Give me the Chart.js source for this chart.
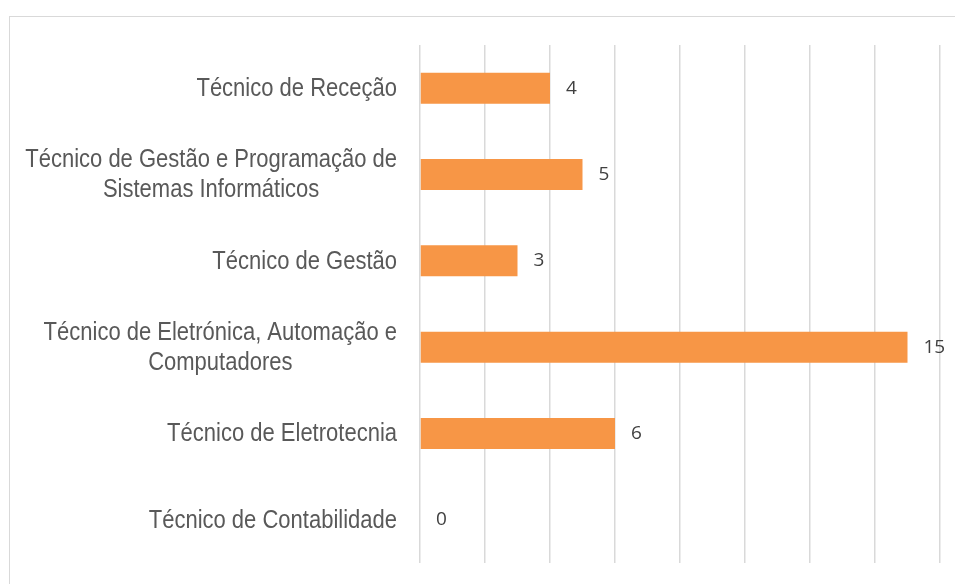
<!DOCTYPE html>
<html>
<head>
<meta charset="utf-8">
<script src="https://cdn.jsdelivr.net/npm/chart.js@4"></script>
<style>
    html, body { margin: 0; padding: 0; background: #fff; overflow: hidden; }
    .frame { position: absolute; left: 9px; top: 16px; width: 1200px; height: 1000px; border: 1px solid #d9d9d9; }
    .chart-box { position: absolute; left: 0; top: 0; width: 955px; height: 584px; }
</style>
</head>
<body>
<div class="frame"></div>
<div class="chart-box">
    <canvas id="myChart" width="955" height="584"></canvas>
</div>
<script>
const courses = [
    ["Técnico de Receção"],
    ["Técnico de Gestão e Programação de", "Sistemas Informáticos"],
    ["Técnico de Gestão"],
    ["Técnico de Eletrónica, Automação e", "Computadores"],
    ["Técnico de Eletrotecnia"],
    ["Técnico de Contabilidade"]
];
const students = [4, 5, 3, 15, 6, 0];
const xTicks = [0, 2, 4, 6, 8, 10, 12, 14, 16];

// category labels: block right-aligned, lines centred inside the block
// (the original font is a condensed sans, so squeeze it a bit)
const courseLabels = {
    id: "courseLabels",
    afterDraw(chart) {
        const ctx = chart.ctx;
        const yScale = chart.scales.y;
        const right = chart.chartArea.left - 23;
        const lineHeight = 30;
        const squeeze = 0.88;
        ctx.save();
        ctx.font = "25px 'Liberation Sans', Arial, sans-serif";
        ctx.fillStyle = "#595959";
        ctx.textBaseline = "middle";
        ctx.textAlign = "center";
        courses.forEach((lines, i) => {
            const widest = Math.max(...lines.map(l => ctx.measureText(l).width)) * squeeze;
            const cx = right - widest / 2;
            const cy = yScale.getPixelForValue(i) + 1;
            lines.forEach((line, j) => {
                ctx.save();
                ctx.translate(cx, cy + (j - (lines.length - 1) / 2) * lineHeight);
                ctx.scale(squeeze, 1);
                ctx.fillText(line, 0, 0);
                ctx.restore();
            });
        });
        ctx.restore();
    }
};

// value labels next to the bars
const valueLabels = {
    id: "valueLabels",
    afterDatasetsDraw(chart) {
        const ctx = chart.ctx;
        const meta = chart.getDatasetMeta(0);
        ctx.save();
        ctx.font = "19px 'Open Sans', sans-serif";
        ctx.fillStyle = "#404040";
        ctx.textBaseline = "middle";
        ctx.textAlign = "left";
        meta.data.forEach((bar, i) => {
            ctx.fillText(String(students[i]), bar.x + 16, bar.y);
        });
        ctx.restore();
    }
};

new Chart(document.getElementById("myChart"), {
    type: "bar",
    data: {
        labels: courses,
        datasets: [{
            data: students,
            backgroundColor: "rgb(247, 150, 70)",
            borderWidth: 0,
            barPercentage: 0.36,
            categoryPercentage: 1
        }]
    },
    options: {
        indexAxis: "y",
        responsive: false,
        animation: false,
        layout: { padding: { left: 10, top: 45, right: 15, bottom: 21 } },
        plugins: {
            legend: { display: false },
            tooltip: { enabled: false }
        },
        scales: {
            x: {
                min: 0,
                max: 16,
                afterBuildTicks: s => { s.ticks = xTicks.map(v => ({ value: v })); },
                ticks: { display: false },
                grid: { color: "#d9d9d9", lineWidth: 1.5, drawTicks: false },
                border: { display: false }
            },
            y: {
                afterFit: s => { s.width = 410; },
                ticks: { display: false },
                grid: { display: false, drawTicks: false },
                border: { display: false }
            }
        }
    },
    plugins: [courseLabels, valueLabels]
});
</script>
</body>
</html>
